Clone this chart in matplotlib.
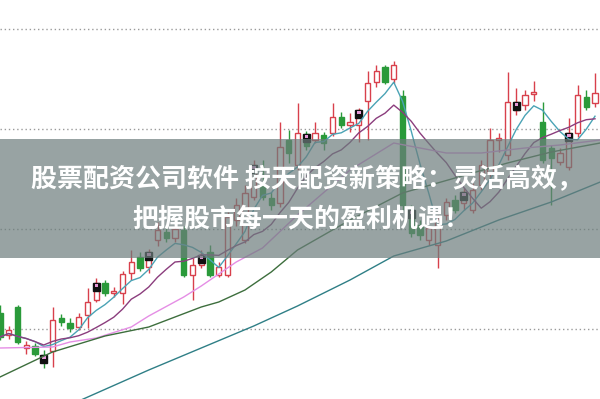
import matplotlib
matplotlib.use('Agg')
import matplotlib.pyplot as plt
import numpy as np
import pandas as pd

plt.rcParams['font.family'] = ['Noto Sans CJK SC', 'DejaVu Sans']

# daily candles, left to right
opens = [11.6, 9.4, 12.2, 8.1, 8.3, 7.4, 7.8, 11.1, 10.6, 10.2,
         11.4, 12.9, 14.6, 13.6, 13.6, 15.6, 17.2, 16.2, 18.9, 19.7,
         19.1, 19.9, 15.4, 16.4, 17.7, 15.4, 15.4, 20.9, 18.9, 23.2,
         24.4, 23.1, 22.6, 28.9, 26.4, 29.5, 28.9, 29.4, 29.6, 31.2,
         30.4, 30.4, 32.8, 34.7, 36.2, 35.0, 33.3, 21.9, 20.4, 18.9,
         18.4, 21.4, 22.9, 22.6, 21.9, 24.4, 25.6, 28.9, 27.4, 31.9,
         32.4, 33.5, 30.7, 28.1, 26.7, 26.2, 29.6, 33.2, 32.6]
highs = [12.4, 10.3, 12.4, 8.8, 8.6, 7.9, 12.2, 11.5, 11.1, 11.6,
         14.1, 15.1, 14.9, 14.2, 15.8, 17.9, 17.7, 18.0, 20.7, 20.1,
         20.4, 20.3, 17.1, 17.9, 18.4, 16.7, 21.7, 23.1, 24.4, 26.9,
         26.9, 23.7, 30.7, 29.9, 32.6, 29.8, 30.7, 29.7, 32.6, 31.7,
         31.6, 32.1, 35.8, 36.4, 36.4, 36.8, 33.9, 22.4, 20.9, 19.7,
         21.4, 23.1, 23.4, 24.1, 24.6, 26.9, 30.1, 29.6, 35.7, 34.1,
         33.9, 34.8, 32.7, 28.4, 28.1, 31.1, 34.4, 33.9, 35.6]
lows = [8.9, 9.0, 8.5, 7.5, 7.3, 6.1, 6.2, 10.3, 9.7, 9.9,
        10.1, 12.7, 13.3, 13.2, 12.5, 14.9, 15.8, 15.6, 18.3, 18.7,
        18.7, 15.2, 12.9, 16.1, 15.2, 15.2, 15.2, 20.3, 18.6, 22.9,
        22.9, 21.9, 22.2, 26.6, 25.9, 27.9, 28.6, 27.9, 29.3, 30.1,
        29.7, 28.7, 28.9, 34.2, 34.5, 34.6, 21.9, 19.2, 18.9, 18.4,
        16.1, 20.9, 21.6, 21.9, 21.6, 23.9, 25.1, 27.7, 26.9, 31.4,
        31.9, 32.8, 26.6, 22.4, 26.4, 25.9, 29.2, 31.9, 32.2]
closes = [9.2, 9.9, 8.7, 8.4, 7.5, 6.7, 10.9, 10.7, 10.1, 11.2,
          12.7, 14.6, 13.6, 13.8, 15.5, 16.7, 16.1, 17.7, 19.9, 19.1,
          20.0, 15.4, 16.4, 17.4, 15.4, 16.2, 21.2, 22.4, 23.6, 26.4,
          23.2, 22.4, 28.2, 27.6, 29.6, 28.3, 29.6, 28.6, 31.2, 30.4,
          30.7, 31.9, 34.6, 35.8, 34.7, 36.4, 22.4, 19.6, 19.4, 20.1,
          20.7, 22.7, 21.9, 23.7, 23.9, 26.4, 28.9, 29.1, 32.7, 32.7,
          33.4, 33.7, 26.9, 27.1, 27.6, 29.6, 33.4, 32.2, 33.6]
marks = [5, 11, 17, 23, 29, 35, 41, 47, 53, 59, 65]

# longer averages
ma20_x = [0, 6, 8, 11, 15, 17, 21, 23, 27, 30, 34, 40, 45, 48, 51, 55, 60, 64, 68.6]
ma20_y = [8.1, 8.2, 8.7, 9.1, 10.2, 11.3, 13.2, 14.3, 16.7, 18.1, 21.4, 25.9, 28.6, 28.1, 27.6, 27.6, 28.1, 28.4, 28.9]
ma30_x = [0, 6, 12, 17, 23, 25, 28, 31, 34, 40, 46, 52, 58, 63, 68.6]
ma30_y = [5.2, 7.7, 9.3, 10.2, 12.2, 12.7, 13.9, 15.7, 17.9, 20.9, 23.6, 25.1, 26.6, 27.7, 28.6]
ma60_x = [9, 17, 23, 29, 34, 40, 45, 51, 57, 63, 68.6]
ma60_y = [2.8, 5.9, 8.1, 10.3, 12.3, 14.9, 17.3, 18.8, 20.9, 22.7, 24.7]

title_lines = ['股票配资公司软件 按天配资新策略：灵活高效，', '把握股市每一天的盈利机遇！']

RED = '#d8404c'
GREEN = '#2a9a3a'

fig = plt.figure(figsize=(6, 3.99), dpi=100)
ax = fig.add_axes([0, 0, 1, 1])
ax.set_xlim(0, 68.57)
ax.set_ylim(3.0, 42.9)
ax.axis('off')

for g in [10, 20, 30, 40]:
    ax.axhline(g, color='#9a9a9a', lw=1, ls=(0, (1, 2)), zorder=1)

idx = np.arange(len(closes))
o = np.array(opens)
c = np.array(closes)
up = c >= o
colors = np.where(up, RED, GREEN)

ax.vlines(idx, lows, highs, colors=colors, lw=1, zorder=2)
bottom = np.minimum(o, c)
height = np.maximum(np.abs(c - o), 0.15)
ax.bar(idx[up], height[up], bottom=bottom[up], width=0.62,
       facecolor='white', edgecolor=RED, lw=1, zorder=3)
ax.bar(idx[~up], height[~up], bottom=bottom[~up], width=0.62,
       facecolor=GREEN, edgecolor=GREEN, lw=1, zorder=3)

# signal icons every sixth bar
top = np.maximum(o, c)
ax.bar(marks, [0.75] * len(marks), bottom=top[marks] - 0.75, width=0.8,
       facecolor='#111111', edgecolor='#111111', zorder=3.5)
ax.bar(marks, [0.25] * len(marks), bottom=top[marks] - 0.35, width=0.4,
       facecolor='#e89ad8', edgecolor='none', zorder=3.6)

ma5 = pd.Series(closes).rolling(5, min_periods=1).mean()
ma10 = pd.Series(closes).rolling(10, min_periods=1).mean()
ax.plot(idx, ma5, color='#4aa3b5', lw=1, zorder=4)
ax.plot(idx, ma10, color='#8b3d7d', lw=1, zorder=4)
ax.plot(ma20_x, ma20_y, color='#e58ee5', lw=1, zorder=4)
ax.plot(ma30_x, ma30_y, color='#3d6e3d', lw=1, zorder=4)
ax.plot(ma60_x, ma60_y, color='#2f7f86', lw=1, zorder=4)

# grey caption band
ax.axhspan(17.1, 29.0, color='#6c7d7c', alpha=0.7, lw=0, zorder=5)
fig.text(0.511, 0.549, title_lines[0], color='white', fontsize=18.7,
         fontweight='bold', ha='center', va='center', zorder=6)
fig.text(0.503, 0.451, title_lines[1], color='white', fontsize=18.7,
         fontweight='bold', ha='center', va='center', zorder=6)

fig.savefig('out.png', dpi=100)
